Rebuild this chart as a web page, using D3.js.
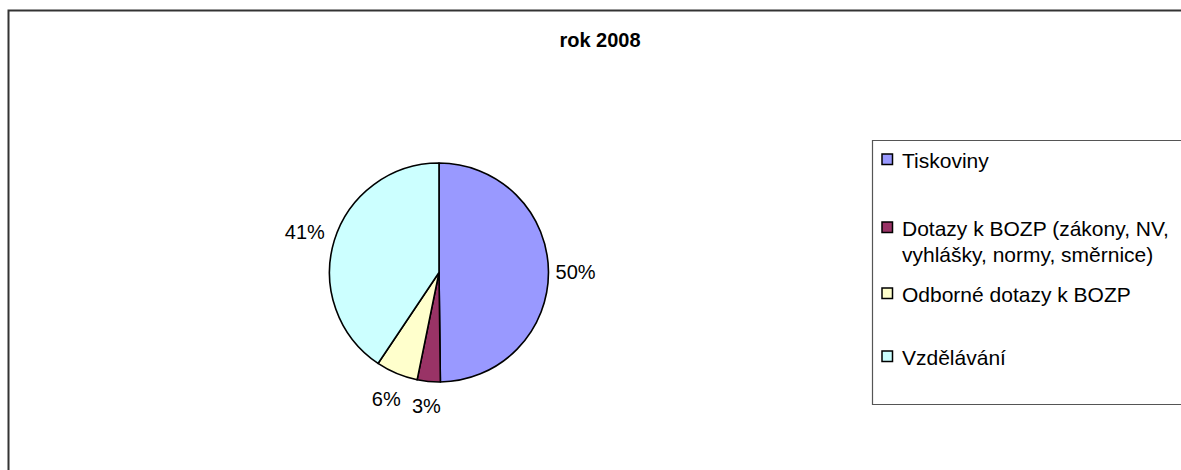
<!DOCTYPE html>
<html>
<head>
<meta charset="utf-8">
<script src="https://cdn.jsdelivr.net/npm/d3@7"></script>
<style>
    html, body { margin: 0; background: #fff; overflow: hidden; }
    svg { display: block; overflow: hidden; font-family: 'Liberation Sans', Arial, sans-serif; }
</style>
</head>
<body>
<div id="chart_parent"></div>
<script>
const chartTitle = 'rok 2008';
const categories = [
    'Tiskoviny',
    'Dotazy k BOZP (zákony, NV, vyhlášky, normy, směrnice)',
    'Odborné dotazy k BOZP',
    'Vzdělávání',
];
// legend lines as wrapped in the picture
const legendLines = [
    ['Tiskoviny'],
    ['Dotazy k BOZP (zákony, NV,', 'vyhlášky, normy, směrnice)'],
    ['Odborné dotazy k BOZP'],
    ['Vzdělávání'],
];
const shares = [49.8, 3.4, 6.2, 40.6];
const colours = ['#9999ff', '#993366', '#ffffcc', '#ccffff'];

const config = {
    width: 1181,
    height: 470,
    cx: 439,
    cy: 272.5,
    radius: 109.5,
    labelGap: 7,
    legend: { x: 872, y: 140, bottom: 404, markerX: 882, textX: 902 },
    legendBaselines: [168, 236, 302, 365],
    lineStep: 26,
};

const svg = d3.select('#chart_parent').append('svg')
    .attr('width', config.width)
    .attr('height', config.height);

// outer chart area border: only top and left edges are in view
svg.append('path')
    .attr('d', `M8.5,${config.height}V10.5H${config.width}`)
    .attr('fill', 'none')
    .attr('stroke', '#333')
    .attr('stroke-width', 2);

svg.append('text')
    .attr('x', 600)
    .attr('y', 47)
    .attr('text-anchor', 'middle')
    .attr('font-size', 20)
    .attr('font-weight', 'bold')
    .text(chartTitle);

const data = categories.map((c, i) => ({ name: c, value: shares[i], colour: colours[i] }));

const pie = d3.pie().sort(null).value(d => d.value);
const arc = d3.arc().innerRadius(0).outerRadius(config.radius);
const arcs = pie(data);

const pieG = svg.append('g')
    .attr('transform', `translate(${config.cx},${config.cy})`);

pieG.selectAll('path.slice')
    .data(arcs)
    .enter()
    .append('path')
    .attr('class', 'slice')
    .attr('d', arc)
    .attr('fill', d => d.data.colour)
    .attr('stroke', '#000')
    .attr('stroke-width', 1.6)
    .attr('stroke-linejoin', 'round');

// percentage labels pushed outside along the middle angle
const total = d3.sum(shares);
const labels = pieG.selectAll('text.pct')
    .data(arcs)
    .enter()
    .append('text')
    .attr('class', 'pct')
    .attr('font-size', 20)
    .attr('text-anchor', 'middle')
    .attr('dominant-baseline', 'central')
    .text(d => `${Math.round(d.data.value / total * 100)}%`);

labels.each(function (d) {
    const w = this.getComputedTextLength();
    const mid = (d.startAngle + d.endAngle) / 2;
    const sx = Math.sin(mid);
    const sy = -Math.cos(mid);
    const dist = config.radius + config.labelGap + Math.abs(sx) * w / 2 + Math.abs(sy) * 16;
    d3.select(this)
        .attr('x', sx * dist)
        .attr('y', sy * dist);
});

// legend box: right edge is cut off by the picture
const lg = config.legend;
svg.append('path')
    .attr('d', `M${config.width},${lg.y + 0.5}H${lg.x + 0.5}V${lg.bottom + 0.5}H${config.width}`)
    .attr('fill', 'none')
    .attr('stroke', '#555')
    .attr('stroke-width', 1.2);

const items = svg.selectAll('g.legend-item')
    .data(data)
    .enter()
    .append('g')
    .attr('class', 'legend-item');

items.append('rect')
    .attr('x', lg.markerX)
    .attr('y', (d, i) => config.legendBaselines[i] - 14)
    .attr('width', 10.5)
    .attr('height', 10.5)
    .attr('fill', d => d.colour)
    .attr('stroke', '#000')
    .attr('stroke-width', 1.5);

items.append('text')
    .attr('font-size', 21)
    .each(function (d, i) {
        legendLines[i].forEach((line, j) => {
            d3.select(this).append('tspan')
                .attr('x', lg.textX)
                .attr('y', config.legendBaselines[i] + j * config.lineStep)
                .text(line);
        });
    });
</script>
</body>
</html>
